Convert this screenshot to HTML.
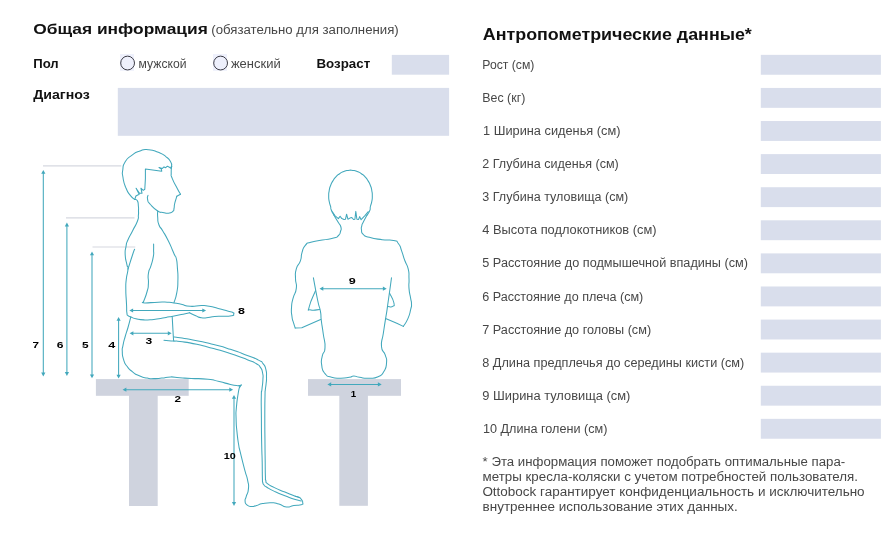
<!DOCTYPE html>
<html><head><meta charset="utf-8"><title>form</title>
<style>html,body{margin:0;padding:0;background:#fff}body{width:892px;height:537px;position:relative;overflow:hidden;font-family:"Liberation Sans",sans-serif}</style>
</head><body>
<svg width="892" height="537" viewBox="0 0 892 537" style="position:absolute;left:0;top:0;will-change:transform">
<g fill="#d9deec">
<rect x="391.8" y="54.9" width="57.3" height="19.8"/>
<rect x="117.8" y="87.9" width="331.3" height="47.9"/>
<rect x="760.8" y="54.85" width="120.1" height="19.9"/>
<rect x="760.8" y="87.94" width="120.1" height="19.9"/>
<rect x="760.8" y="121.03" width="120.1" height="19.9"/>
<rect x="760.8" y="154.12" width="120.1" height="19.9"/>
<rect x="760.8" y="187.21" width="120.1" height="19.9"/>
<rect x="760.8" y="220.30" width="120.1" height="19.9"/>
<rect x="760.8" y="253.39" width="120.1" height="19.9"/>
<rect x="760.8" y="286.48" width="120.1" height="19.9"/>
<rect x="760.8" y="319.57" width="120.1" height="19.9"/>
<rect x="760.8" y="352.66" width="120.1" height="19.9"/>
<rect x="760.8" y="385.75" width="120.1" height="19.9"/>
<rect x="760.8" y="418.84" width="120.1" height="19.9"/>
</g>
<rect x="120.0" y="54.1" width="14" height="16.7" fill="#eef0fc"/>
<circle cx="127.6" cy="63.05" r="6.9" fill="none" stroke="#3c3c46" stroke-width="1.0"/>
<rect x="213.0" y="54.1" width="14" height="16.7" fill="#eef0fc"/>
<circle cx="220.6" cy="63.05" r="6.9" fill="none" stroke="#3c3c46" stroke-width="1.0"/>
<g fill="#cfd3de">
<rect x="95.9" y="379.1" width="92.8" height="16.7"/><rect x="129" y="395" width="28.7" height="111"/>
<rect x="308" y="379.1" width="93" height="16.7"/><rect x="339.3" y="395" width="28.6" height="110.8"/>
</g>
<g stroke="#d6d8e0" stroke-width="1.2" fill="none">
<line x1="43" y1="165.8" x2="121.3" y2="165.8"/>
<line x1="66" y1="217.9" x2="134.5" y2="217.9"/>
<line x1="92.5" y1="247" x2="135.3" y2="247"/>
</g>
<g stroke="#42a8bc" stroke-width="1.05" fill="none" stroke-linecap="round" stroke-linejoin="round">
<path d="M171.7,166.3 C171.3,164.8 172.5,165.0 170.6,161.8 C168.7,158.6 170.2,160.0 166.1,156.8 C162.0,153.6 164.3,154.7 158.3,152.3 C152.3,149.9 154.6,150.1 148.2,149.7 C141.8,149.3 144.8,149.2 139.2,151.2 C133.6,153.2 136.1,152.2 131.4,155.7 C126.7,159.2 128.1,157.1 125.2,161.8 C122.3,166.5 123.5,164.5 122.8,169.7 C122.1,174.9 122.0,171.5 123.0,177.5 C124.0,183.5 123.4,181.6 125.8,187.6 C128.2,193.6 127.3,191.5 130.3,195.4 C133.3,199.3 133.3,198.1 134.8,199.4"/>
<path d="M171.7,166.3 C171.5,168.5 171.0,168.9 171.2,173.0 C171.4,177.1 170.2,173.4 172.3,178.6 C174.4,183.8 174.7,183.5 177.4,188.7 C180.1,193.9 179.5,192.4 180.5,194.3"/>
<path d="M176.8,196.3 C176.6,197.0 176.9,195.8 176.2,198.4 C175.5,201.0 175.3,200.6 174.6,204.0 C173.9,207.4 174.6,206.1 174.0,208.5 C173.4,210.9 174.8,209.7 172.9,211.3 C171.0,212.9 171.8,212.8 168.4,213.2 C165.0,213.6 166.4,213.1 162.8,212.4 C159.2,211.7 161.8,213.6 157.7,211.0 C153.6,208.4 153.8,208.3 150.4,204.5 C147.0,200.7 148.4,202.6 147.6,199.5 C146.8,196.4 147.9,196.6 148.0,195.2"/>
<path d="M134.8,199.4 C135.7,199.9 136.2,198.5 137.4,200.8 C138.6,203.1 138.0,202.8 138.4,206.2 C138.8,209.6 138.5,208.0 138.5,211.0 C138.5,214.0 138.8,211.8 138.4,215.2 C138.0,218.6 139.4,216.1 137.4,221.3 C135.4,226.5 135.6,224.7 132.5,230.9 C129.4,237.1 130.2,234.6 128.0,239.8 C125.8,245.0 126.9,241.5 126.0,246.6 C125.1,251.7 124.9,249.0 125.2,255.0 C125.5,261.0 126.0,259.9 126.9,264.6 C127.8,269.3 128.2,264.3 128.0,269.1 C127.8,273.9 127.0,272.4 126.3,279.1 C125.6,285.8 125.8,282.1 125.8,289.2 C125.8,296.3 126.0,294.7 126.3,300.4 C126.6,306.1 126.4,302.0 126.6,306.2 C126.8,310.4 126.4,309.7 126.9,312.9 C127.4,316.1 126.7,314.4 128.0,315.7 C129.3,317.0 129.9,316.5 130.8,316.9"/>
<path d="M134.6,249.2 C133.9,251.1 134.7,248.4 132.5,255.0 C130.3,261.6 129.5,264.4 128.0,269.1"/>
<path d="M157.7,211.0 C157.7,213.1 157.3,212.8 157.7,217.4 C158.1,222.0 157.2,220.2 158.9,224.7 C160.6,229.2 159.6,225.5 162.8,230.9 C166.0,236.3 165.2,234.6 168.4,241.0 C171.6,247.4 170.3,245.3 172.4,250.0 C174.5,254.7 173.3,252.2 174.6,255.0 C175.9,257.8 175.4,254.2 176.3,258.5 C177.2,262.8 176.9,260.6 177.4,267.9 C177.9,275.2 178.1,272.1 177.9,280.3 C177.7,288.5 178.1,285.1 176.8,292.6 C175.5,300.1 174.9,299.3 174.0,302.7"/>
<path d="M153.6,244.1 C153.6,246.1 153.7,245.8 153.6,250.0 C153.5,254.2 154.2,251.5 153.3,256.7 C152.4,261.9 152.6,260.1 151.0,265.7 C149.4,271.3 149.3,267.5 148.4,273.5 C147.5,279.5 148.8,277.6 148.4,283.6 C148.0,289.6 148.7,285.4 147.1,291.5 C145.5,297.6 144.7,298.4 143.5,301.8"/>
<path d="M143.5,301.8 C143.9,302.2 139.9,302.8 144.8,302.9 C149.7,303.0 150.8,302.4 158.3,302.2 C165.8,302.0 162.1,302.0 167.3,302.2 C172.5,302.4 169.4,302.2 174.0,302.9 C178.6,303.6 175.8,303.2 181.2,304.3 C186.6,305.4 183.5,305.9 190.2,306.3 C196.9,306.7 195.1,305.5 201.4,305.5 C207.7,305.5 203.6,305.3 209.2,306.3 C214.8,307.3 211.8,306.8 218.2,308.5 C224.6,310.2 223.4,310.0 228.3,311.3 C233.2,312.6 231.0,311.6 232.8,312.5 C234.6,313.4 234.1,312.8 233.7,313.9 C233.3,315.0 235.0,315.0 231.7,315.8 C228.4,316.6 229.4,316.0 223.8,316.2 C218.2,316.4 220.0,316.0 214.8,316.4 C209.6,316.8 212.6,317.0 208.1,317.5 C203.6,318.0 205.5,318.4 201.4,317.8 C197.3,317.2 199.7,317.5 195.8,315.8 C191.9,314.1 191.7,313.8 189.6,312.8"/>
<path d="M189.6,312.8 C186.8,313.4 187.2,313.3 181.2,314.5 C175.2,315.7 177.8,315.2 171.7,316.4 C165.6,317.6 168.8,317.0 162.8,318.0 C156.8,319.0 159.8,318.8 153.8,319.4 C147.8,320.0 150.8,320.1 144.8,319.9 C138.8,319.7 140.6,319.8 135.9,318.8 C131.2,317.8 132.5,317.5 130.8,316.9"/>
<path d="M130.8,316.9 C129.9,320.4 129.9,321.0 128.0,327.5 C126.1,334.0 126.9,330.5 125.2,336.5 C123.5,342.5 124.0,340.3 123.0,345.4 C122.0,350.5 122.1,347.0 122.3,351.7 C122.5,356.4 122.0,354.7 123.6,359.6 C125.2,364.5 124.0,362.2 127.0,366.3 C130.0,370.4 128.5,368.7 132.6,371.9 C136.7,375.1 134.4,373.7 139.3,375.8 C144.2,377.9 142.3,377.2 147.2,378.1 C152.1,379.0 149.1,378.6 153.9,378.6 C158.7,378.6 156.1,378.7 161.7,378.1 C167.3,377.5 164.7,377.0 170.7,376.9 C176.7,376.8 172.9,377.3 179.7,377.8 C186.5,378.3 181.8,377.9 191.2,378.4 C200.6,378.9 198.7,378.2 208.0,379.3 C217.3,380.4 211.7,379.9 219.2,381.6 C226.7,383.3 224.0,383.0 230.4,384.4 C236.8,385.8 235.7,385.3 238.3,385.8"/>
<path d="M239.8,386.1 C239.2,388.7 239.2,386.9 238.1,394.0 C237.0,401.1 237.1,399.2 236.4,407.4 C235.7,415.6 235.9,410.4 236.1,418.6 C236.3,426.8 236.1,423.3 237.0,432.1 C237.9,440.9 237.6,438.4 238.7,445.0 C239.8,451.6 238.2,443.6 240.2,451.9 C242.2,460.2 242.2,460.4 244.7,469.8 C247.2,479.2 246.4,473.8 247.6,480.2 C248.8,486.6 248.9,483.6 248.4,489.1 C247.9,494.6 247.3,492.6 246.2,496.6 C245.1,500.6 244.9,498.3 245.1,501.0 C245.3,503.7 244.8,503.0 246.9,504.8 C249.0,506.6 248.2,506.3 251.4,506.5 C254.6,506.7 252.9,506.5 256.6,505.5 C260.3,504.5 257.5,504.5 262.5,503.6 C267.5,502.7 266.0,502.7 271.5,502.8 C277.0,502.9 274.0,502.6 278.9,504.0 C283.8,505.4 281.3,506.5 286.3,507.0 C291.3,507.5 288.8,506.2 293.8,505.5 C298.8,504.8 298.2,505.8 301.2,504.8 C304.2,503.8 302.6,504.2 302.7,502.5 C302.8,500.8 302.7,501.3 301.5,499.6 C300.3,497.9 301.1,498.4 299.0,497.3 C296.9,496.2 296.5,496.6 295.3,496.3"/>
<path d="M172.2,316.5 C172.4,320.2 172.4,320.5 172.8,327.6 C173.2,334.7 173.1,333.2 173.4,337.7 C173.7,342.2 173.6,339.9 173.7,341.0"/>
<path d="M173.6,337.0 C175.7,337.3 172.3,336.6 180.0,337.8 C187.7,339.0 185.6,338.5 196.8,340.7 C208.0,342.9 202.4,341.6 213.6,344.5 C224.8,347.4 219.2,345.7 230.4,349.3 C241.6,352.9 237.9,351.8 247.3,355.4 C256.7,359.0 253.3,357.4 258.5,360.1 C263.7,362.8 260.6,360.6 263.0,363.6 C265.4,366.6 264.6,364.7 265.8,369.2 C267.0,373.7 266.4,372.2 266.5,377.1 C266.6,382.0 266.5,379.5 266.1,383.8 C265.7,388.1 265.7,385.9 265.3,390.0 C264.9,394.1 265.2,386.7 265.0,396.2 C264.8,405.7 264.8,402.3 264.8,418.6 C264.8,434.9 264.9,430.4 265.0,445.0 C265.1,459.6 265.1,452.0 265.2,462.3 C265.3,472.6 265.2,469.9 265.4,476.0 C265.6,482.1 265.1,478.0 265.8,480.5 C266.5,483.0 264.5,481.2 267.4,483.6 C270.3,486.0 268.6,484.8 274.4,487.6 C280.2,490.4 277.9,489.2 284.9,492.1 C291.9,495.0 290.4,494.5 295.3,496.3 C300.2,498.1 298.2,497.1 299.7,497.5"/>
<path d="M163.9,340.3 C167.1,340.5 168.0,340.6 173.4,341.0 C178.8,341.4 172.2,340.4 180.0,341.5 C187.8,342.6 185.6,341.9 196.8,344.3 C208.0,346.7 202.4,345.5 213.6,348.6 C224.8,351.7 219.2,349.9 230.4,353.6 C241.6,357.3 238.6,356.3 247.3,359.7 C256.0,363.1 252.0,361.2 256.4,363.8 C260.8,366.4 258.3,364.3 260.4,367.4 C262.5,370.5 261.8,368.9 262.6,373.0 C263.4,377.1 263.1,374.4 262.9,379.7 C262.7,385.0 262.5,383.5 262.0,389.0 C261.5,394.5 261.5,386.3 261.3,396.2 C261.1,406.1 261.3,402.3 261.4,418.6 C261.5,434.9 261.4,430.4 261.7,445.0 C262.0,459.6 262.0,451.3 262.2,462.3 C262.4,473.3 262.2,471.2 262.4,478.0 C262.6,484.8 262.3,480.3 262.8,482.6 C263.3,484.9 262.8,483.5 264.0,485.0 C265.2,486.5 263.0,484.9 266.5,487.0 C270.0,489.1 268.3,488.5 274.4,491.4 C280.5,494.3 277.9,493.1 284.9,495.8 C291.9,498.5 289.9,497.9 295.3,499.6 C300.7,501.3 299.2,500.5 301.2,501.0"/>
<path d="M334.0,215.3 C333.1,213.4 332.3,212.6 331.2,209.7 C330.1,206.8 331.3,209.3 330.6,206.5 C329.9,203.7 329.8,204.9 329.2,201.4 C328.6,197.9 328.7,199.6 328.7,196.0 C328.7,192.4 328.6,194.1 329.2,190.6 C329.8,187.1 329.4,188.7 330.6,185.5 C331.8,182.3 331.1,183.8 332.9,180.9 C334.7,178.0 333.7,179.3 335.9,176.9 C338.1,174.5 337.0,175.5 339.6,173.7 C342.2,171.9 340.9,172.6 343.8,171.5 C346.7,170.4 345.2,170.8 348.2,170.4 C351.2,170.0 349.8,170.0 352.8,170.4 C355.8,170.8 354.3,170.4 357.2,171.5 C360.1,172.6 358.8,171.9 361.4,173.7 C364.0,175.5 362.9,174.5 365.1,176.9 C367.3,179.3 366.3,178.0 368.1,180.9 C369.9,183.8 369.2,182.3 370.4,185.5 C371.6,188.7 371.2,187.1 371.8,190.6 C372.4,194.1 372.3,192.4 372.3,196.0 C372.3,199.6 372.4,197.9 371.8,201.4 C371.2,204.9 371.1,203.4 370.4,206.5 C369.7,209.6 370.9,207.9 369.7,210.8 C368.5,213.7 367.8,213.8 366.9,215.3"/>
<path d="M334.0,215.3 C335.4,217.6 335.9,218.4 338.2,222.3 C340.5,226.2 340.1,223.9 340.9,227.0 C341.7,230.1 341.3,228.7 340.5,231.5 C339.7,234.3 340.8,233.3 338.5,235.5 C336.2,237.7 339.0,236.6 333.6,238.1 C328.2,239.6 329.9,238.7 322.3,240.1 C314.7,241.5 316.6,240.4 310.9,242.2 C305.2,244.0 308.3,241.9 305.3,245.4 C302.3,248.9 303.6,247.6 302.0,252.7 C300.4,257.8 302.3,255.4 300.4,260.8 C298.5,266.2 297.9,263.0 296.3,268.9 C294.7,274.8 295.5,272.1 295.5,278.6 C295.5,285.1 297.1,281.9 296.3,288.4 C295.5,294.9 294.7,291.6 293.1,298.1 C291.5,304.6 291.9,301.6 291.5,307.8 C291.1,314.0 291.4,311.8 292.0,316.7 C292.6,321.6 292.3,318.7 293.4,322.4 C294.5,326.1 294.6,326.1 295.2,327.9"/>
<path d="M366.9,215.3 C365.7,217.6 364.9,218.8 363.2,222.3 C361.5,225.8 362.4,223.2 361.8,225.8 C361.2,228.4 361.0,227.1 361.5,230.0 C362.0,232.9 360.6,232.0 363.2,234.4 C365.8,236.8 362.9,235.5 369.3,237.3 C375.7,239.1 374.2,238.6 382.3,239.7 C390.4,240.8 388.2,239.1 393.6,240.5 C399.0,241.9 395.8,240.3 398.5,243.8 C401.2,247.3 399.6,245.4 401.7,251.1 C403.8,256.8 402.7,254.9 404.9,260.8 C407.1,266.7 406.8,263.0 408.2,268.9 C409.6,274.8 408.7,272.1 409.0,278.6 C409.3,285.1 408.5,281.9 409.0,288.4 C409.5,294.9 409.8,292.9 410.6,298.1 C411.4,303.3 411.5,300.3 411.5,304.0 C411.5,307.7 411.9,304.4 410.7,309.3 C409.5,314.2 410.4,312.9 407.9,318.6 C405.4,324.3 404.8,323.8 403.3,326.4"/>
<path d="M313.4,277.8 C314.8,285.2 315.3,288.9 317.6,300.0 C319.9,311.1 319.2,304.4 320.4,311.2 C321.6,318.0 320.4,313.1 321.3,320.5 C322.2,327.9 322.0,324.5 323.2,333.5 C324.4,342.5 325.3,340.0 325.0,347.5 C324.7,355.0 323.4,350.0 322.3,355.9 C321.2,361.8 320.8,359.3 321.7,365.2 C322.6,371.1 321.7,369.6 325.0,373.6 C328.3,377.6 326.3,375.8 331.6,377.3 C336.9,378.8 335.0,378.2 340.9,378.2 C346.8,378.2 345.0,378.0 349.3,377.3 C353.6,376.6 350.5,376.0 353.9,376.0 C357.3,376.0 354.5,376.6 359.5,377.3 C364.5,378.0 362.6,378.4 368.8,378.2 C375.0,378.0 373.1,378.9 378.1,376.7 C383.1,374.5 380.9,376.2 383.7,371.7 C386.5,367.2 386.0,368.9 386.5,363.3 C387.0,357.7 386.9,360.5 385.2,354.9 C383.5,349.3 382.1,353.7 381.5,346.6 C380.9,339.5 381.9,342.8 383.3,333.5 C384.7,324.2 384.3,326.7 385.6,318.6 C386.9,310.5 386.2,315.5 387.1,309.3 C388.0,303.1 386.9,310.5 388.4,300.0 C389.9,289.5 390.5,285.2 391.5,277.8"/>
<path d="M315.5,290.8 C313.4,296.0 310.8,300.1 309.3,306.5 C307.8,312.9 307.5,308.9 310.9,309.9 C314.3,310.9 316.7,309.6 319.6,309.5"/>
<path d="M389.6,293.2 C391.0,296.3 392.8,298.1 393.8,302.5 C394.8,306.9 394.6,305.1 392.7,306.4 C390.8,307.7 389.6,306.4 388.0,306.4"/>
<path d="M134.8,199.4 L135.9,196.0 L139.2,194.3 L136.1,188.2 L139.5,193.2 L142.0,193.2 L140.9,188.2 L143.2,190.4 L144.8,189.3 L145.4,178.6 L145.4,169.1 L161.8,171.3 L161.3,169.0 L159.0,167.5 L162.4,168.4 L164.0,166.9 L165.7,167.7 L167.4,166.2 L168.9,166.9 L170.8,168.2 L171.5,166.0"/>
<path d="M180.5,194.3 L176.8,196.3"/>
<path d="M238.3,385.8 L241.1,385.3"/>
<path d="M241.3,384.8 L239.6,387.5"/>
<path d="M332.3,211.9 L335.1,215.8 L338.4,218.6 L340.1,216.2 L341.8,218.6 L344.0,219.5 L345.5,219.2 L346.6,214.2 L347.9,219.2 L349.9,218.1 L351.8,217.5 L353.5,219.5 L354.9,219.2 L355.8,211.4 L356.9,219.2 L358.5,219.5 L359.7,216.6 L361.1,219.7 L364.7,215.8 L368.3,211.7"/>
<path d="M295.2,327.9 L301.8,327.7 L320.6,319.6"/>
<path d="M403.3,326.4 L396.8,323.3 L385.6,318.6"/>
</g>
<g stroke="#42a8bc" stroke-width="1.05" fill="none"><style>.ah{fill:#42a8bc;stroke:none}</style>
<line x1="43.3" y1="172.0" x2="43.3" y2="374.4"/><path class="ah" d="M43.3,170.0 l-2.1,3.8 l4.2,0 z"/><path class="ah" d="M43.3,376.4 l-2.1,-3.8 l4.2,0 z"/>
<line x1="66.9" y1="224.6" x2="66.9" y2="373.9"/><path class="ah" d="M66.9,222.6 l-2.1,3.8 l4.2,0 z"/><path class="ah" d="M66.9,375.9 l-2.1,-3.8 l4.2,0 z"/>
<line x1="92.0" y1="253.5" x2="92.0" y2="376.2"/><path class="ah" d="M92.0,251.5 l-2.1,3.8 l4.2,0 z"/><path class="ah" d="M92.0,378.2 l-2.1,-3.8 l4.2,0 z"/>
<line x1="118.6" y1="319.0" x2="118.6" y2="376.6"/><path class="ah" d="M118.6,317.0 l-2.1,3.8 l4.2,0 z"/><path class="ah" d="M118.6,378.6 l-2.1,-3.8 l4.2,0 z"/>
<line x1="234.0" y1="396.9" x2="234.0" y2="503.9"/><path class="ah" d="M234.0,394.9 l-2.1,3.8 l4.2,0 z"/><path class="ah" d="M234.0,505.9 l-2.1,-3.8 l4.2,0 z"/>
<line x1="131.3" y1="310.5" x2="204.1" y2="310.5"/><path class="ah" d="M129.3,310.5 l3.8,-2.1 l0,4.2 z"/><path class="ah" d="M206.1,310.5 l-3.8,-2.1 l0,4.2 z"/>
<line x1="131.6" y1="333.3" x2="169.6" y2="333.3"/><path class="ah" d="M129.6,333.3 l3.8,-2.1 l0,4.2 z"/><path class="ah" d="M171.6,333.3 l-3.8,-2.1 l0,4.2 z"/>
<line x1="124.6" y1="389.7" x2="231.1" y2="389.7"/><path class="ah" d="M122.6,389.7 l3.8,-2.1 l0,4.2 z"/><path class="ah" d="M233.1,389.7 l-3.8,-2.1 l0,4.2 z"/>
<line x1="321.5" y1="288.7" x2="384.7" y2="288.7"/><path class="ah" d="M319.5,288.7 l3.8,-2.1 l0,4.2 z"/><path class="ah" d="M386.7,288.7 l-3.8,-2.1 l0,4.2 z"/>
<line x1="329.4" y1="384.4" x2="379.7" y2="384.4"/><path class="ah" d="M327.4,384.4 l3.8,-2.1 l0,4.2 z"/><path class="ah" d="M381.7,384.4 l-3.8,-2.1 l0,4.2 z"/>
</g>
<g font-family="Liberation Sans, sans-serif">
<text x="33.2" y="33.6" font-size="15" textLength="174.6" lengthAdjust="spacingAndGlyphs" font-weight="bold" fill="#111">Общая информация</text>
<text x="211.3" y="34.4" font-size="12.5" textLength="187.4" lengthAdjust="spacingAndGlyphs" fill="#474747">(обязательно для заполнения)</text>
<text x="33.2" y="67.9" font-size="12.5" textLength="25.5" lengthAdjust="spacingAndGlyphs" font-weight="bold" fill="#111">Пол</text>
<text x="138.6" y="68.2" font-size="12.5" textLength="47.9" lengthAdjust="spacingAndGlyphs" fill="#474747">мужской</text>
<text x="230.9" y="68.2" font-size="12.5" textLength="49.8" lengthAdjust="spacingAndGlyphs" fill="#474747">женский</text>
<text x="316.5" y="67.9" font-size="12.5" textLength="53.7" lengthAdjust="spacingAndGlyphs" font-weight="bold" fill="#111">Возраст</text>
<text x="33.2" y="98.8" font-size="12.5" textLength="56.6" lengthAdjust="spacingAndGlyphs" font-weight="bold" fill="#111">Диагноз</text>
<text x="482.8" y="40.0" font-size="16" textLength="269.0" lengthAdjust="spacingAndGlyphs" font-weight="bold" fill="#111">Антропометрические данные*</text>
<text x="482.3" y="68.9" font-size="12.5" textLength="52.1" lengthAdjust="spacingAndGlyphs" fill="#474747">Рост (см)</text>
<text x="482.3" y="102.0" font-size="12.5" textLength="43.0" lengthAdjust="spacingAndGlyphs" fill="#474747">Вес (кг)</text>
<text x="483.0" y="135.1" font-size="12.5" textLength="137.5" lengthAdjust="spacingAndGlyphs" fill="#474747">1 Ширина сиденья (см)</text>
<text x="482.3" y="168.2" font-size="12.5" textLength="136.5" lengthAdjust="spacingAndGlyphs" fill="#474747">2 Глубина сиденья (см)</text>
<text x="482.3" y="201.3" font-size="12.5" textLength="146.0" lengthAdjust="spacingAndGlyphs" fill="#474747">3 Глубина туловища (см)</text>
<text x="482.3" y="234.4" font-size="12.5" textLength="174.2" lengthAdjust="spacingAndGlyphs" fill="#474747">4 Высота подлокотников (см)</text>
<text x="482.3" y="267.4" font-size="12.5" textLength="265.7" lengthAdjust="spacingAndGlyphs" fill="#474747">5 Расстояние до подмышечной впадины (см)</text>
<text x="482.3" y="300.5" font-size="12.5" textLength="161.0" lengthAdjust="spacingAndGlyphs" fill="#474747">6 Расстояние до плеча (см)</text>
<text x="482.3" y="333.6" font-size="12.5" textLength="168.8" lengthAdjust="spacingAndGlyphs" fill="#474747">7 Расстояние до головы (см)</text>
<text x="482.3" y="366.7" font-size="12.5" textLength="262.0" lengthAdjust="spacingAndGlyphs" fill="#474747">8 Длина предплечья до середины кисти (см)</text>
<text x="482.3" y="399.8" font-size="12.5" textLength="148.0" lengthAdjust="spacingAndGlyphs" fill="#474747">9 Ширина туловища (см)</text>
<text x="483.0" y="432.9" font-size="12.5" textLength="124.4" lengthAdjust="spacingAndGlyphs" fill="#474747">10 Длина голени (см)</text>
<text x="482.6" y="465.7" font-size="12.5" textLength="362.6" lengthAdjust="spacingAndGlyphs" fill="#474747">* Эта информация поможет подобрать оптимальные пара-</text>
<text x="482.6" y="480.7" font-size="12.5" textLength="375.4" lengthAdjust="spacingAndGlyphs" fill="#474747">метры кресла-коляски с учетом потребностей пользователя.</text>
<text x="482.4" y="495.7" font-size="12.5" textLength="382.2" lengthAdjust="spacingAndGlyphs" fill="#474747">Ottobock гарантирует конфиденциальность и исключительно</text>
<text x="482.6" y="510.7" font-size="12.5" textLength="255.2" lengthAdjust="spacingAndGlyphs" fill="#474747">внутреннее использование этих данных.</text>
<g fill="#000" font-size="9.3" font-weight="bold">
<text x="32.64" y="348.4" textLength="6.5" lengthAdjust="spacingAndGlyphs">7</text>
<text x="56.83" y="348.4" textLength="6.7" lengthAdjust="spacingAndGlyphs">6</text>
<text x="82.13" y="348.4" textLength="6.6" lengthAdjust="spacingAndGlyphs">5</text>
<text x="108.31" y="348.4" textLength="7.0" lengthAdjust="spacingAndGlyphs">4</text>
<text x="145.63" y="343.6" textLength="6.7" lengthAdjust="spacingAndGlyphs">3</text>
<text x="174.44" y="401.7" textLength="6.5" lengthAdjust="spacingAndGlyphs">2</text>
<text x="237.92" y="313.6" textLength="6.9" lengthAdjust="spacingAndGlyphs">8</text>
<text x="223.68" y="458.6" textLength="12.0" lengthAdjust="spacingAndGlyphs">10</text>
<text x="348.81" y="283.7" textLength="7.0" lengthAdjust="spacingAndGlyphs">9</text>
<text x="350.72" y="396.6" textLength="5.4" lengthAdjust="spacingAndGlyphs">1</text>
</g>
</g>
</svg>
</body></html>
